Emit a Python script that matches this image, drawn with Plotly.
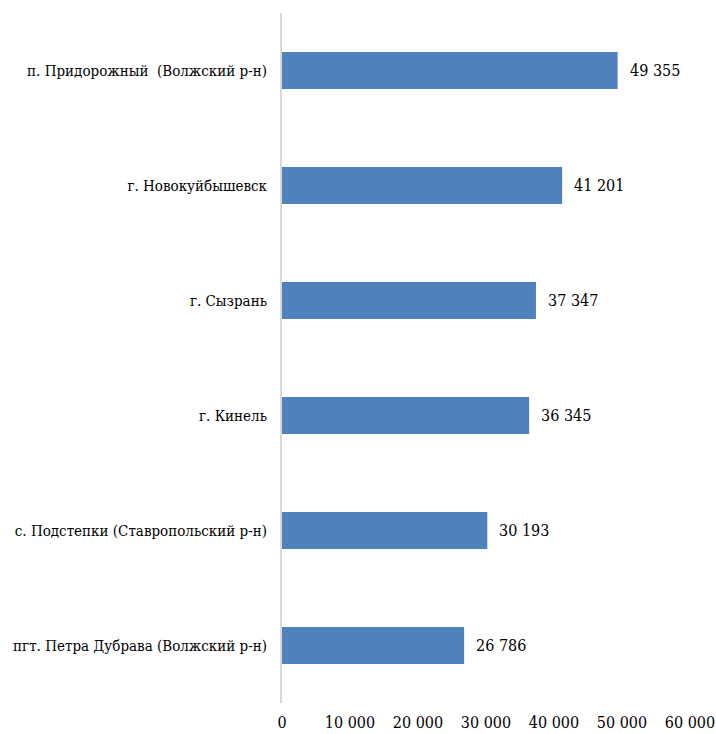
import plotly.graph_objects as go

# Settlements, listed top to bottom
places = [
    "п. Придорожный  (Волжский р-н)",
    "г. Новокуйбышевск",
    "г. Сызрань",
    "г. Кинель",
    "с. Подстепки (Ставропольский р-н)",
    "пгт. Петра Дубрава (Волжский р-н)",
]
values = [49355, 41201, 37347, 36345, 30193, 26786]

tick_vals = [0, 10000, 20000, 30000, 40000, 50000, 60000]
tick_text = ["0", "10 000", "20 000", "30 000", "40 000", "50 000", "60 000"]


def fmt(v):
    return f"{v:,}".replace(",", " ")


FONT = "DejaVu Serif Condensed, DejaVu Serif"

fig = go.Figure(
    go.Bar(
        x=values,
        y=places,
        orientation="h",
        marker=dict(color="#4F81BD", line=dict(width=0)),
        width=0.32,
        hoverinfo="skip",
    )
)

# value labels to the right of each bar
for p, v in zip(places, values):
    fig.add_annotation(
        x=v, y=p, text=fmt(v), showarrow=False,
        xanchor="left", yanchor="middle", xshift=10,
        font=dict(family=FONT, size=16, color="#000000"),
    )

fig.update_layout(
    width=716,
    height=734,
    margin=dict(l=282, r=26, t=13, b=31),
    paper_bgcolor="white",
    plot_bgcolor="white",
    showlegend=False,
    font=dict(family=FONT, size=15, color="#000000"),
    xaxis=dict(
        range=[0, 60000],
        tickvals=tick_vals,
        ticktext=tick_text,
        showgrid=False,
        zeroline=False,
        showline=False,
        ticks="outside",
        ticklen=5,
        tickcolor="rgba(0,0,0,0)",
        tickfont=dict(family=FONT, size=16),
        automargin=False,
        fixedrange=True,
    ),
    yaxis=dict(
        categoryorder="array",
        categoryarray=places,
        autorange="reversed",
        showgrid=False,
        zeroline=False,
        showline=True,
        linecolor="#D9D9D9",
        linewidth=2,
        ticks="outside",
        ticklen=10,
        tickcolor="rgba(0,0,0,0)",
        tickfont=dict(family=FONT, size=15),
        automargin=False,
        fixedrange=True,
    ),
)

fig.write_html("out.html")
